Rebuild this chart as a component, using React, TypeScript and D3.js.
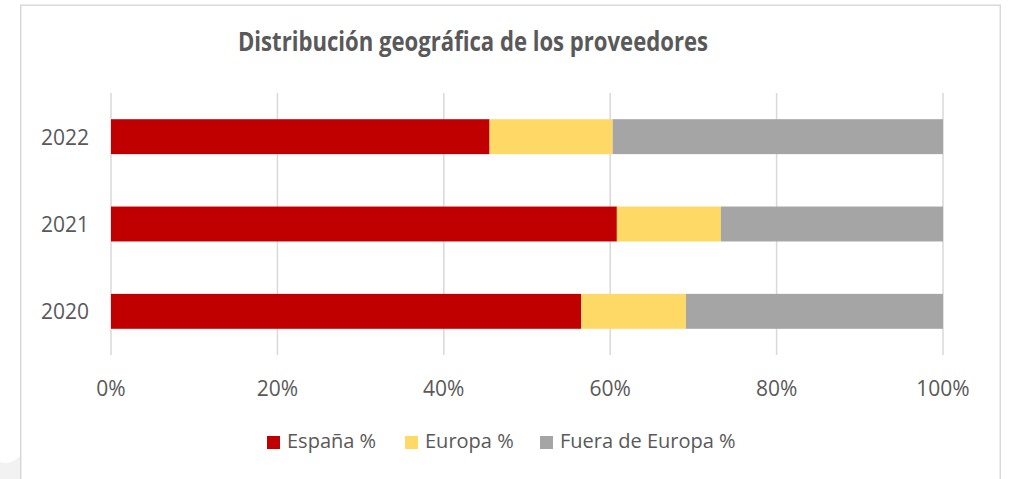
import React from "react";
import * as d3 from "d3";

const years = ["2022", "2021", "2020"];
const series = ["España %", "Europa %", "Fuera de Europa %"];
const espana = [45.5, 60.8, 56.5];
const europa = [14.8, 12.5, 12.6];
const fuera = [39.7, 26.7, 30.9];
const xTicks = [0, 20, 40, 60, 80, 100];
const colors = ["#C00000", "#FFD966", "#A5A5A5"];
const title = "Distribución geográfica de los proveedores";

const W = 1015;
const H = 479;
const plot = { left: 111, right: 943, top: 93, bottom: 355 };
const FONT = "'Open Sans', 'Liberation Sans', sans-serif";
const TEXT = "#595959";

export default function App() {
  const x = d3.scaleLinear().domain([0, 100]).range([plot.left, plot.right]);
  const y = d3
    .scaleBand<string>()
    .domain(years)
    .range([plot.top, plot.bottom])
    .paddingInner(0.6)
    .paddingOuter(0.3);

  const rows = years.map((yr, i) => ({
    year: yr,
    vals: [espana[i], europa[i], fuera[i]],
  }));
  const stack = d3
    .stack<{ year: string; vals: number[] }, number>()
    .keys([0, 1, 2])
    .value((d, k) => d.vals[k]);
  const layers = stack(rows);

  const legendX = [267, 405, 540];

  return (
    <svg
      width={W}
      height={H}
      style={{ position: "absolute", left: 0, top: 0, background: "#fff" }}
    >
      <path d="M0,462 Q10,466 20,456 L20,479 L0,479 Z" fill="#F2F2F2" />
      <rect
        x={20.75}
        y={5.25}
        width={979.5}
        height={H + 10}
        fill="#fff"
        stroke="#D9D9D9"
        strokeWidth={1.5}
      />
      <text
        x={473}
        y={51}
        textAnchor="middle"
        fontFamily={FONT}
        fontWeight="bold"
        fontSize={26}
        fill={TEXT}
        textLength={470}
        lengthAdjust="spacingAndGlyphs"
      >
        {title}
      </text>
      {xTicks.map((t) => (
        <line
          key={t}
          x1={x(t)}
          x2={x(t)}
          y1={plot.top}
          y2={plot.bottom}
          stroke="#D9D9D9"
          strokeWidth={1.5}
        />
      ))}
      {layers.map((layer, li) => (
        <g key={li}>
          {layer.map((d, i) => (
            <rect
              key={i}
              x={x(d[0])}
              y={y(rows[i].year)}
              width={x(d[1]) - x(d[0])}
              height={y.bandwidth()}
              fill={colors[li]}
            />
          ))}
        </g>
      ))}
      {years.map((yr) => (
        <text
          key={yr}
          x={89}
          y={(y(yr) as number) + y.bandwidth() / 2 + 8}
          textAnchor="end"
          fontFamily={FONT}
          fontSize={21}
          fill={TEXT}
        >
          {yr}
        </text>
      ))}
      {xTicks.map((t) => (
        <text
          key={t}
          x={x(t)}
          y={396}
          textAnchor="middle"
          fontFamily={FONT}
          fontSize={21}
          fill={TEXT}
        >
          {t + "%"}
        </text>
      ))}
      {series.map((s, i) => (
        <g key={s}>
          <rect x={legendX[i]} y={436} width={13} height={13} fill={colors[i]} />
          <text
            x={legendX[i] + 20}
            y={448}
            fontFamily={FONT}
            fontSize={20}
            fill={TEXT}
          >
            {s}
          </text>
        </g>
      ))}
    </svg>
  );
}
